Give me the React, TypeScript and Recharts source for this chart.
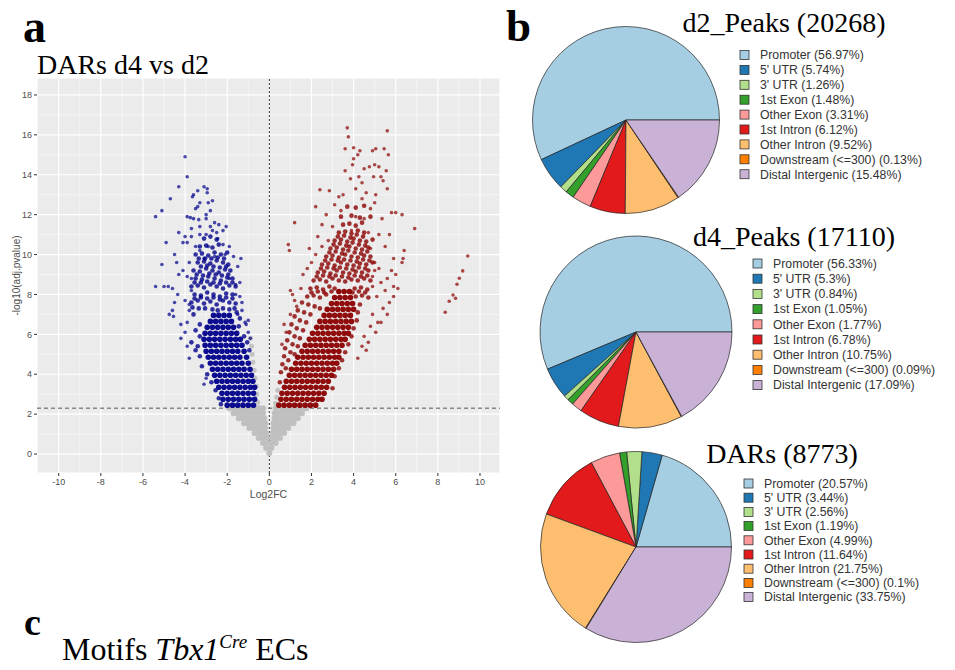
import React from 'react'
import { ScatterChart, Scatter, XAxis, YAxis, CartesianGrid, ReferenceLine, PieChart, Pie, Cell } from 'recharts'

// volcano axes
const xTicks = [-10, -8, -6, -4, -2, 0, 2, 4, 6, 8, 10]
const yTicks = [0, 2, 4, 6, 8, 10, 12, 14, 16, 18]
const xMinor = [-9, -7, -5, -3, -1, 1, 3, 5, 7, 9]
const yMinor = [1, 3, 5, 7, 9, 11, 13, 15, 17]
const pCutoff = 2.3

// not significant (grey), rows of [y, x values]
const nsRows: [number, number[]][] = [
  [0.05, [0.0]],
  [0.3, [-0.15, 0.1]],
  [0.55, [-0.3, -0.1, 0.1, 0.3]],
  [0.8, [-0.5, -0.3, -0.1, 0.15, 0.35, 0.5]],
  [1.05, [-0.7, -0.5, -0.3, -0.15, 0.15, 0.3, 0.5, 0.7]],
  [1.3, [-0.95, -0.75, -0.55, -0.35, -0.2, 0.2, 0.35, 0.5, 0.7, 0.9]],
  [1.55, [-1.2, -1.0, -0.8, -0.6, -0.4, -0.2, 0.2, 0.35, 0.55, 0.75, 0.95, 1.15]],
  [1.8, [-1.45, -1.25, -1.05, -0.85, -0.65, -0.45, -0.25, 0.25, 0.4, 0.6, 0.8, 1.0, 1.2, 1.35]],
  [2.05, [-1.7, -1.5, -1.3, -1.1, -0.9, -0.7, -0.5, -0.3, 0.25, 0.4, 0.6, 0.8, 1.0, 1.2, 1.4, 1.55]],
  [2.3, [-1.9, -1.7, -1.5, -1.3, -1.1, -0.9, -0.7, -0.5, -0.3, 0.3, 0.55, 0.75, 0.95, 1.15, 1.35, 1.55, 1.75]],
]
const nsEdge: [number, number][] = [
  [-0.55, 2.6], [-0.6, 3.0], [-0.62, 3.4], [-0.68, 3.8], [-0.72, 4.2], [-0.78, 4.6],
  [-0.82, 5.0], [-0.85, 5.4], [-0.9, 5.8], [0.3, 2.55], [0.35, 2.85], [0.4, 3.2],
]

// down in d4 (blue): dense core rows, then scattered points
const downCore: [number, number[]][] = [
  [2.45, [-2.0, -1.75, -1.5, -1.25, -1.0, -0.75]],
  [2.75, [-2.2, -1.95, -1.7, -1.45, -1.2, -0.95, -0.7]],
  [3.05, [-2.25, -2.0, -1.75, -1.5, -1.25, -1.0, -0.75]],
  [3.35, [-2.4, -2.15, -1.9, -1.65, -1.4, -1.15, -0.9, -0.7]],
  [3.65, [-2.5, -2.25, -2.0, -1.75, -1.5, -1.25, -1.0, -0.78]],
  [3.95, [-2.6, -2.35, -2.1, -1.85, -1.6, -1.35, -1.1, -0.85]],
  [4.25, [-2.7, -2.45, -2.2, -1.95, -1.7, -1.45, -1.2, -0.92]],
  [4.55, [-2.8, -2.55, -2.3, -2.05, -1.8, -1.55, -1.3, -1.0]],
  [4.85, [-2.9, -2.65, -2.4, -2.15, -1.9, -1.65, -1.4, -1.08]],
  [5.15, [-3.0, -2.75, -2.5, -2.25, -2.0, -1.75, -1.5, -1.2]],
  [5.45, [-3.05, -2.8, -2.55, -2.3, -2.05, -1.8, -1.55, -1.3]],
  [5.75, [-3.1, -2.85, -2.6, -2.35, -2.1, -1.85, -1.6, -1.38]],
  [6.05, [-3.05, -2.8, -2.55, -2.3, -2.05, -1.8, -1.55]],
  [6.35, [-2.95, -2.7, -2.45, -2.2, -1.95, -1.7]],
  [6.65, [-2.8, -2.55, -2.3, -2.05, -1.8]],
  [6.95, [-2.65, -2.4, -2.15, -1.9]],
]
const downMid: [number, number][] = [
  [-3.6, 7.0], [-3.35, 7.3], [-1.55, 7.1], [-1.4, 6.8], [-3.3, 6.5], [-3.5, 6.2], [-1.45, 6.4],
  [-3.65, 7.35], [-3.05, 7.3], [-2.7, 7.25], [-2.45, 7.2], [-2.2, 7.3], [-1.9, 7.25], [-1.65, 7.3],
  [-3.7, 7.6], [-3.4, 7.7], [-3.1, 7.55], [-2.8, 7.65], [-2.5, 7.5], [-2.2, 7.7], [-1.9, 7.6], [-1.6, 7.55],
  [-3.55, 7.8], [-3.25, 7.85], [-2.95, 7.8], [-2.65, 7.85], [-2.35, 7.75], [-2.05, 7.85], [-1.75, 7.8],
  [-3.55, 8.0], [-3.25, 7.95], [-2.95, 8.1], [-2.65, 8.0], [-2.35, 7.9], [-2.05, 8.05], [-1.75, 8.0],
  [-3.7, 8.4], [-3.4, 8.45], [-3.1, 8.35], [-2.8, 8.5], [-2.5, 8.4], [-2.2, 8.3], [-1.9, 8.45], [-1.6, 8.4],
  [-3.55, 8.6], [-3.25, 8.6], [-2.95, 8.65], [-2.65, 8.6], [-2.35, 8.55], [-2.05, 8.6], [-1.75, 8.6],
  [-3.5, 8.8], [-3.2, 8.75], [-2.9, 8.9], [-2.6, 8.8], [-2.3, 8.7], [-2.0, 8.85], [-1.75, 8.8],
  [-3.45, 9.0], [-3.15, 8.95], [-2.85, 9.05], [-2.55, 9.0], [-2.25, 8.95], [-1.95, 9.0],
  [-3.6, 9.2], [-3.3, 9.15], [-3.0, 9.3], [-2.7, 9.2], [-2.4, 9.1], [-2.1, 9.25], [-1.85, 9.2],
  [-3.25, 9.4], [-2.95, 9.45], [-2.65, 9.4], [-2.35, 9.35], [-2.05, 9.4],
  [-3.4, 9.6], [-3.1, 9.65], [-2.8, 9.55], [-2.5, 9.7], [-2.2, 9.6], [-1.95, 9.5],
  [-3.35, 9.8], [-3.05, 9.8], [-2.75, 9.8], [-2.45, 9.85], [-2.15, 9.8],
  [-3.5, 10.0], [-3.2, 10.05], [-2.9, 9.95], [-2.6, 10.1], [-2.3, 10.0], [-2.0, 10.1],
  [-3.3, 10.4], [-3.0, 10.45], [-2.7, 10.35], [-2.4, 10.5], [-3.1, 10.8], [-2.8, 10.9], [-2.5, 10.75],
  [-3.7, 5.6], [-3.5, 5.2], [-3.3, 4.9], [-3.2, 4.4], [-2.95, 4.0], [-2.75, 3.6], [-2.55, 3.2],
  [-2.4, 2.8], [-2.3, 2.5], [-1.2, 5.9], [-1.05, 5.6], [-0.95, 5.2], [-3.3, 5.9], [-3.4, 5.4],
]
const downSpread: [number, number][] = [
  [-3.8, 7.2], [-3.9, 6.6], [-3.7, 8.2], [-3.9, 8.9], [-4.0, 7.7], [-1.6, 8.5], [-1.4, 7.9],
  [-1.3, 7.2], [-1.15, 6.6], [-1.0, 6.1], [-3.0, 11.0], [-2.7, 11.2], [-3.3, 11.4], [-2.4, 11.5],
  [-3.7, 11.3], [-3.0, 12.0], [-3.5, 12.3], [-2.8, 12.2],
  [-4.0, 14.9], [-3.9, 13.9], [-4.3, 13.4], [-3.1, 13.4], [-2.95, 13.3], [-2.95, 13.1], [-3.4, 13.2],
  [-3.6, 13.0], [-3.65, 12.9], [-4.7, 12.8], [-3.3, 12.6], [-2.7, 12.7], [-2.9, 12.6], [-3.4, 12.4],
  [-5.1, 12.2], [-5.4, 11.9], [-3.9, 11.9], [-3.75, 11.85], [-3.6, 11.8], [-3.35, 11.75], [-3.0, 11.8],
  [-2.6, 11.6], [-2.8, 11.4], [-2.05, 11.4], [-2.2, 11.2], [-4.3, 11.1], [-3.3, 11.0], [-2.5, 11.1],
  [-2.45, 10.8], [-4.0, 10.9], [-3.7, 10.9], [-4.9, 10.6], [-3.9, 10.6], [-4.1, 10.6], [-3.5, 10.4],
  [-2.2, 10.5], [-1.9, 10.4], [-1.7, 9.9], [-4.5, 10.0], [-3.3, 10.2], [-2.1, 10.0], [-1.35, 9.8],
  [-5.1, 9.5], [-4.4, 9.6], [-4.1, 9.2], [-1.5, 9.4], [-4.3, 9.0], [-1.9, 8.8], [-5.4, 8.4],
  [-5.0, 8.4], [-4.8, 8.4], [-4.6, 8.3], [-4.35, 8.0], [-4.5, 7.6], [-4.6, 7.2], [-4.75, 7.0],
  [-4.55, 6.9], [-4.2, 6.5], [-4.2, 5.8], [-3.9, 5.4], [-4.0, 6.1], [-3.8, 4.8], [-3.1, 3.5],
  [-3.0, 3.8], [-1.6, 8.0], [-1.4, 8.6], [-1.3, 7.6], [-1.1, 6.5], [-1.0, 6.7], [-3.8, 7.5],
  [-3.7, 8.8], [-3.8, 9.6], [-1.5, 7.0], [-0.9, 5.8], [-2.6, 9.9], [-2.9, 10.4], [-3.1, 9.8],
]

// up in d4 (red): dense core rows, then scattered points
const upCore: [number, number[]][] = [
  [2.45, [0.45, 0.7, 0.95, 1.2, 1.45, 1.7, 1.95, 2.2]],
  [2.75, [0.55, 0.8, 1.05, 1.3, 1.55, 1.8, 2.05, 2.3, 2.5]],
  [3.05, [0.6, 0.85, 1.1, 1.35, 1.6, 1.85, 2.1, 2.35, 2.6]],
  [3.35, [0.72, 0.97, 1.22, 1.47, 1.72, 1.97, 2.22, 2.47, 2.72]],
  [3.65, [0.8, 1.05, 1.3, 1.55, 1.8, 2.05, 2.3, 2.55, 2.8]],
  [3.95, [0.95, 1.2, 1.45, 1.7, 1.95, 2.2, 2.45, 2.7, 2.95]],
  [4.25, [1.05, 1.3, 1.55, 1.8, 2.05, 2.3, 2.55, 2.8, 3.05]],
  [4.55, [1.25, 1.5, 1.75, 2.0, 2.25, 2.5, 2.75, 3.0, 3.2]],
  [4.85, [1.35, 1.6, 1.85, 2.1, 2.35, 2.6, 2.85, 3.1, 3.3]],
  [5.15, [1.55, 1.8, 2.05, 2.3, 2.55, 2.8, 3.05, 3.3]],
  [5.45, [1.7, 1.95, 2.2, 2.45, 2.7, 2.95, 3.2, 3.45]],
  [5.75, [1.9, 2.15, 2.4, 2.65, 2.9, 3.15, 3.4, 3.6]],
  [6.05, [2.05, 2.3, 2.55, 2.8, 3.05, 3.3, 3.55, 3.75]],
  [6.35, [2.25, 2.5, 2.75, 3.0, 3.25, 3.5, 3.75]],
  [6.65, [2.4, 2.65, 2.9, 3.15, 3.4, 3.65, 3.9]],
  [6.95, [2.6, 2.85, 3.1, 3.35, 3.6, 3.85]],
  [7.25, [2.75, 3.0, 3.25, 3.5, 3.75, 4.0]],
  [7.55, [2.95, 3.2, 3.45, 3.7, 3.95]],
  [7.85, [3.1, 3.35, 3.6, 3.85]],
  [8.15, [3.3, 3.55, 3.8]],
]
const upMid: [number, number][] = [
  [0.5, 3.6], [0.55, 4.1], [0.62, 4.5], [0.78, 4.3], [0.7, 4.9], [0.9, 4.7], [0.75, 5.3], [1.0, 5.1],
  [1.2, 5.0], [0.85, 5.7], [1.1, 5.5], [1.35, 5.4], [0.95, 6.1], [1.2, 5.9], [1.45, 5.8], [1.05, 6.5],
  [1.3, 6.3], [1.6, 6.2], [1.2, 6.9], [1.45, 6.7], [1.75, 6.6], [1.35, 7.2], [1.65, 7.1], [1.95, 7.0],
  [1.55, 7.6], [1.85, 7.5], [2.15, 7.4], [2.4, 7.3],
  [3.0, 3.3], [3.1, 3.9], [3.3, 4.3], [3.45, 4.7], [3.6, 5.1], [3.75, 5.5], [3.9, 5.9], [4.0, 6.3],
  [4.15, 6.7], [4.2, 7.1], [4.3, 7.5],
  [1.8, 7.9], [2.1, 7.95], [2.4, 7.85], [2.7, 8.0], [4.1, 7.9], [4.4, 7.95], [4.7, 7.85],
  [2.0, 8.1], [2.3, 8.15], [2.6, 8.1], [2.95, 8.15], [3.95, 8.1], [4.25, 8.15], [4.55, 8.1],
  [1.95, 8.3], [2.25, 8.35], [2.55, 8.25], [2.85, 8.4], [3.1, 8.3], [4.05, 8.3], [4.35, 8.35], [4.65, 8.25],
  [2.1, 8.7], [2.4, 8.75], [2.7, 8.65], [3.0, 8.8], [3.3, 8.7], [3.6, 8.65], [3.9, 8.75], [4.2, 8.7], [4.5, 8.8], [4.8, 8.7],
  [2.25, 8.9], [2.55, 8.95], [2.85, 8.9], [3.15, 8.95], [3.45, 8.9], [3.75, 8.85], [4.05, 8.95], [4.35, 8.9], [4.65, 8.95],
  [2.3, 9.1], [2.6, 9.15], [2.9, 9.05], [3.2, 9.2], [3.5, 9.1], [3.8, 9.05], [4.1, 9.15], [4.4, 9.1], [4.7, 9.2],
  [2.45, 9.3], [2.75, 9.35], [3.05, 9.3], [3.35, 9.35], [3.65, 9.3], [3.95, 9.25], [4.25, 9.35], [4.55, 9.3],
  [2.5, 9.5], [2.8, 9.55], [3.1, 9.45], [3.4, 9.6], [3.7, 9.5], [4.0, 9.45], [4.3, 9.55], [4.6, 9.5], [4.9, 9.6],
  [2.65, 9.7], [2.95, 9.75], [3.25, 9.7], [3.55, 9.75], [3.85, 9.7], [4.15, 9.65], [4.45, 9.75], [4.75, 9.7],
  [2.7, 9.9], [3.0, 9.95], [3.3, 9.85], [3.6, 10.0], [3.9, 9.9], [4.2, 9.85], [4.5, 9.95], [4.8, 9.9],
  [2.85, 10.1], [3.15, 10.15], [3.45, 10.05], [3.75, 10.2], [4.05, 10.1], [4.35, 10.05], [4.65, 10.15],
  [2.9, 10.3], [3.2, 10.35], [3.5, 10.25], [3.8, 10.4], [4.1, 10.3], [4.4, 10.25], [4.7, 10.35],
  [3.05, 10.5], [3.35, 10.55], [3.65, 10.45], [3.95, 10.6], [4.25, 10.5], [4.55, 10.45],
  [3.1, 10.7], [3.4, 10.75], [3.7, 10.65], [4.0, 10.8], [4.3, 10.7], [4.6, 10.65], [4.9, 10.75],
  [3.25, 10.9], [3.55, 10.95], [3.85, 10.85], [4.15, 11.0], [4.45, 10.9],
  [3.3, 11.1], [3.6, 11.15], [3.9, 11.05], [4.2, 11.2], [4.5, 11.1],
  [3.5, 11.5], [3.8, 11.55], [4.1, 11.45], [4.4, 11.6], [3.4, 11.9], [3.9, 11.95], [4.3, 11.85], [4.8, 11.9],
  [3.7, 12.4], [4.1, 12.35], [4.5, 12.45],
]
const upSpread: [number, number][] = [
  [0.6, 5.5], [0.7, 6.5], [0.8, 6.1], [1.0, 7.0], [1.3, 7.4], [1.2, 7.7], [1.1, 8.0], [1.0, 8.2],
  [1.5, 8.3], [1.6, 9.0], [1.8, 9.3], [2.0, 9.6], [2.2, 10.0], [2.5, 10.4], [4.8, 10.3], [5.0, 9.6],
  [5.2, 9.3], [4.9, 8.9], [5.3, 8.6], [5.0, 9.2], [4.9, 8.4], [5.1, 7.9], [4.9, 7.0], [4.8, 6.4], [4.5, 5.9],
  [3.7, 16.35], [3.75, 15.9], [5.6, 16.2], [3.6, 15.3], [4.0, 15.35], [4.3, 15.2], [4.9, 15.2],
  [5.05, 15.3], [5.45, 15.3], [5.65, 15.0], [4.2, 15.0], [4.0, 14.8], [3.95, 14.5], [4.5, 14.3],
  [4.75, 14.4], [5.0, 14.5], [5.2, 14.4], [5.55, 14.2], [3.6, 14.2], [3.85, 13.8], [4.25, 13.9],
  [4.4, 13.6], [4.95, 13.9], [5.3, 13.9], [5.4, 13.7], [2.4, 13.25], [2.85, 13.2], [3.5, 13.0],
  [4.1, 13.3], [4.6, 13.1], [5.05, 13.0], [5.6, 13.3], [3.3, 12.9], [4.4, 12.8], [3.1, 12.5],
  [2.2, 12.4], [4.8, 12.3], [5.0, 12.6], [5.8, 12.1], [6.3, 12.0], [6.0, 12.1], [3.4, 12.2],
  [2.7, 12.0], [4.1, 11.9], [4.5, 11.8], [5.35, 11.8], [1.2, 11.6], [6.9, 11.3], [2.5, 11.5],
  [3.0, 11.4], [3.9, 11.2], [4.7, 11.1], [5.2, 11.0], [5.7, 11.0], [2.3, 10.9], [2.8, 10.7],
  [5.5, 10.4], [0.9, 10.5], [0.95, 10.2], [1.9, 10.3], [6.4, 10.2], [6.35, 9.8], [6.3, 9.6],
  [5.9, 9.8], [5.8, 9.2], [6.0, 9.0], [5.6, 8.8], [5.9, 8.4], [6.1, 8.3], [5.5, 8.2], [5.7, 7.6],
  [5.9, 7.9], [5.4, 7.3], [5.6, 7.0], [5.3, 6.6], [5.15, 6.6], [5.05, 6.1], [4.7, 5.6], [4.6, 5.2],
  [4.4, 5.4], [4.2, 4.8],
  [9.42, 9.93], [9.18, 9.18], [9.02, 8.81], [8.91, 8.51], [8.72, 7.97], [8.84, 7.81], [8.54, 7.66], [8.35, 7.11],
]

// genomic annotation pies
const regions = ['Promoter', "5' UTR", "3' UTR", '1st Exon', 'Other Exon', '1st Intron', 'Other Intron', 'Downstream (<=300)', 'Distal Intergenic']
const regionColors = ['#A6CEE3', '#1F78B4', '#B2DF8A', '#33A02C', '#FB9A99', '#E31A1C', '#FDBF6F', '#FF7F00', '#CAB2D6']
const d2Pct = [56.97, 5.74, 1.26, 1.48, 3.31, 6.12, 9.52, 0.13, 15.48]
const d4Pct = [56.33, 5.3, 0.84, 1.05, 1.77, 6.78, 10.75, 0.09, 17.09]
const darPct = [20.57, 3.44, 2.56, 1.19, 4.99, 11.64, 21.75, 0.1, 33.75]

const fromRows = (rows: [number, number[]][]) => rows.flatMap(([y, xs]) => xs.map(x => ({ x, y })))
const fromPairs = (pairs: [number, number][]) => pairs.map(([x, y]) => ({ x, y }))

const dot = (r: number, fill: string, op: number) => (p: any) => (
  <circle cx={p.cx} cy={p.cy} r={r} fill={fill} fillOpacity={op} />
)

const serif = '"Liberation Serif", "Times New Roman", serif'
const sans = '"Liberation Sans", Arial, sans-serif'

const pies = [
  { title: 'd2_Peaks (20268)', pct: d2Pct, cx: 626, cy: 120, r: 93.5, tx: 784, ty: 32, lx: 740, ly: 55, step: 14.9 },
  { title: 'd4_Peaks (17110)', pct: d4Pct, cx: 636, cy: 332, r: 96, tx: 794, ty: 246, lx: 753, ly: 263.5, step: 15.2 },
  { title: 'DARs (8773)', pct: darPct, cx: 636, cy: 547, r: 95.5, tx: 782, ty: 463, lx: 744, ly: 483.5, step: 14.2 },
]

const axisTick = { fontSize: 9, fill: '#4d4d4d', fontFamily: sans }
const blue = '#00008B'
const red = '#8B0000'

export default function App() {
  return (
    <div style={{ position: 'absolute', left: 0, top: 0, width: 955, height: 670, background: '#fff' }}>
      <div style={{ position: 'absolute', left: 0, top: 0 }}>
        <ScatterChart width={520} height={510} margin={{ top: 78, right: 20, bottom: 0, left: 0 }}>
          <CartesianGrid fill="#EBEBEB" stroke="#FFFFFF" strokeWidth={1.2} />
          <CartesianGrid horizontalValues={yMinor} verticalValues={xMinor} stroke="#FFFFFF" strokeWidth={0.5} fill="none" />
          <XAxis
            type="number" dataKey="x" domain={[-11.03, 10.95]} ticks={xTicks} allowDataOverflow
            height={37} tickSize={3} tickMargin={3} axisLine={false} tickLine={{ stroke: '#333' }} tick={axisTick}
            label={{ value: 'Log2FC', position: 'insideBottom', offset: 12, style: { fontSize: 10.5, fill: '#4d4d4d', fontFamily: sans } }}
          />
          <YAxis
            type="number" dataKey="y" domain={[-0.95, 18.85]} ticks={yTicks} allowDataOverflow
            width={37} tickSize={3} tickMargin={2} axisLine={false} tickLine={{ stroke: '#333' }} tick={axisTick}
            label={{ value: '-log10(adj.pvalue)', angle: -90, position: 'insideLeft', offset: 16, style: { textAnchor: 'middle', fontSize: 10, fill: '#4d4d4d', fontFamily: sans } }}
          />
          <Scatter data={fromRows(nsRows)} shape={dot(3, '#BEBEBE', 0.95)} isAnimationActive={false} />
          <Scatter data={fromPairs(nsEdge)} shape={dot(2.5, '#BEBEBE', 0.9)} isAnimationActive={false} />
          <Scatter data={fromRows(downCore)} shape={dot(2.8, blue, 0.95)} isAnimationActive={false} />
          <Scatter data={fromPairs(downMid)} shape={dot(2.3, blue, 0.8)} isAnimationActive={false} />
          <Scatter data={fromPairs(downSpread)} shape={dot(1.8, blue, 0.7)} isAnimationActive={false} />
          <Scatter data={fromRows(upCore)} shape={dot(2.8, red, 0.95)} isAnimationActive={false} />
          <Scatter data={fromPairs(upMid)} shape={dot(2.3, red, 0.8)} isAnimationActive={false} />
          <Scatter data={fromPairs(upSpread)} shape={dot(1.8, red, 0.7)} isAnimationActive={false} />
          <ReferenceLine x={0} stroke="#333" strokeDasharray="2 2" strokeWidth={1} />
          <ReferenceLine y={pCutoff} stroke="#555" strokeDasharray="4 3" strokeWidth={1} />
        </ScatterChart>
      </div>

      {pies.map((p, k) => (
        <div key={k} style={{ position: 'absolute', left: p.cx - 100, top: p.cy - 100 }}>
          <PieChart width={200} height={200} margin={{ top: 0, right: 0, bottom: 0, left: 0 }}>
            <Pie
              data={regions.map((name, i) => ({ name, value: p.pct[i] }))}
              dataKey="value" cx="50%" cy="50%" outerRadius={p.r} startAngle={0} endAngle={360}
              stroke="#222" strokeWidth={0.7} isAnimationActive={false}
            >
              {regions.map((_, i) => <Cell key={i} fill={regionColors[i]} />)}
            </Pie>
          </PieChart>
        </div>
      ))}

      <svg width={955} height={670} style={{ position: 'absolute', left: 0, top: 0, pointerEvents: 'none' }}>
        <text x={23} y={42} fontFamily={serif} fontWeight="bold" fontSize={46}>a</text>
        <text x={37} y={74} fontFamily={serif} fontSize={28}>DARs d4 vs d2</text>
        <text x={506} y={41} fontFamily={serif} fontWeight="bold" fontSize={45}>b</text>
        <text x={24} y={635} fontFamily={serif} fontWeight="bold" fontSize={38}>c</text>
        <text x={62} y={660} fontFamily={serif} fontSize={32}>
          Motifs <tspan fontStyle="italic">Tbx1</tspan>
          <tspan fontStyle="italic" fontSize={19} dy={-12}>Cre</tspan>
          <tspan dy={12}> ECs</tspan>
        </text>
        {pies.map((p, k) => (
          <g key={k}>
            <text x={p.tx} y={p.ty} textAnchor="middle" fontFamily={serif} fontSize={28}>{p.title}</text>
            {regions.map((name, i) => (
              <g key={i}>
                <rect x={p.lx} y={p.ly + i * p.step - 4.5} width={9} height={9} fill={regionColors[i]} stroke="#333" strokeWidth={0.8} />
                <text x={p.lx + 20} y={p.ly + i * p.step + 4.3} fontFamily={sans} fontSize={12.3} fill="#333">
                  {`${name} (${p.pct[i]}%)`}
                </text>
              </g>
            ))}
          </g>
        ))}
      </svg>
    </div>
  )
}
